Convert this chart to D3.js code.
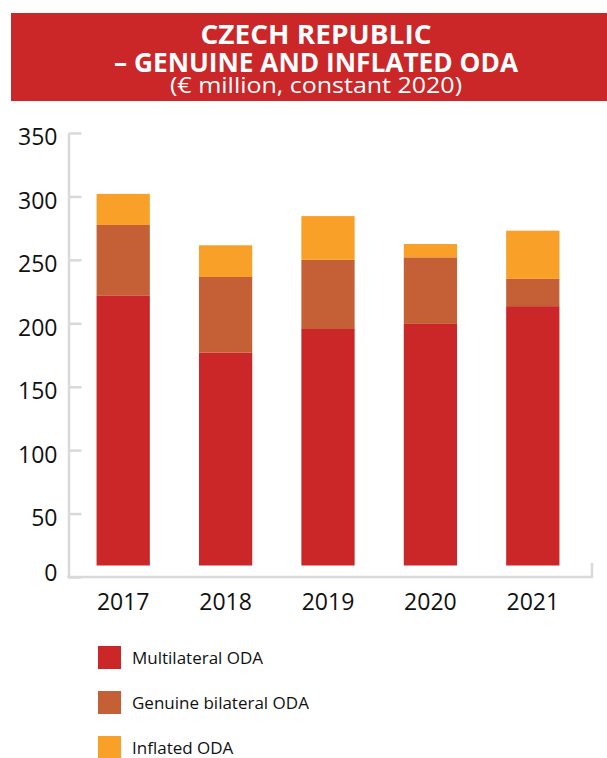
<!DOCTYPE html>
<html>
<head>
<meta charset="utf-8">
<script src="https://cdn.jsdelivr.net/npm/d3@7"></script>
<style>
  body { margin: 0; background: #fff; }
  svg { display: block; }
  .axis text { font-family: "Open Sans", sans-serif; font-size: 23px; fill: #111; }
  .legend text { font-family: "Open Sans", sans-serif; font-size: 17px; fill: #111; }
</style>
</head>
<body>
<div class="chart"></div>
<script>
var svgWidth = 607;
var svgHeight = 758;

// Data (€ million, constant 2020)
var years = ["2017", "2018", "2019", "2020", "2021"];
var multilateral = [222, 177, 195.5, 199.5, 213.5];
var genuineBilateral = [55.5, 59.5, 54.5, 52.5, 21.5];
var inflated = [24.5, 25, 34.5, 10.5, 38];
var yTicks = [0, 50, 100, 150, 200, 250, 300, 350];
var seriesNames = ["Multilateral ODA", "Genuine bilateral ODA", "Inflated ODA"];
var seriesColors = ["#cb2628", "#c56036", "#f9a028"];

var svg = d3.select(".chart")
  .append("svg")
  .attr("width", svgWidth)
  .attr("height", svgHeight);

// Title banner
svg.append("rect")
  .attr("x", 11)
  .attr("y", 13)
  .attr("width", svgWidth - 11)
  .attr("height", 88)
  .attr("fill", "#cb2628");

var titleX = 316;
var title = svg.append("text")
  .attr("text-anchor", "middle")
  .attr("fill", "#fff")
  .style("font-family", "'Open Sans', sans-serif");

title.append("tspan")
  .attr("x", titleX).attr("y", 44)
  .attr("textLength", 231).attr("lengthAdjust", "spacingAndGlyphs")
  .style("font-weight", "bold").style("font-size", "26px")
  .text("CZECH REPUBLIC");
title.append("tspan")
  .attr("x", titleX).attr("y", 72)
  .attr("textLength", 404).attr("lengthAdjust", "spacingAndGlyphs")
  .style("font-weight", "bold").style("font-size", "26px")
  .text("– GENUINE AND INFLATED ODA");
title.append("tspan")
  .attr("x", titleX).attr("y", 93)
  .attr("textLength", 292).attr("lengthAdjust", "spacingAndGlyphs")
  .style("font-size", "22px")
  .text("(€ million, constant 2020)");

// Scales
var xScale = d3.scaleBand()
  .domain(years)
  .range([72, 584])
  .paddingInner(0.48)
  .paddingOuter(0.24);

var yScale = d3.scaleLinear()
  .domain([0, 350])
  .range([577, 133]);

var axisX = 68.5;
var barGap = 11.5; // bars stop a little above the zero line, as in the original

// Stack
var table = years.map(function(yr, i) {
  return { year: yr, m: multilateral[i], g: genuineBilateral[i], f: inflated[i] };
});
var stacked = d3.stack().keys(["m", "g", "f"])(table);

var base = yScale(0) - barGap;
svg.append("g")
  .selectAll("g")
  .data(stacked)
  .enter()
  .append("g")
  .attr("fill", function(d, i) { return seriesColors[i]; })
  .selectAll("rect")
  .data(function(d) { return d; })
  .enter()
  .append("rect")
  .attr("x", function(d) { return xScale(d.data.year); })
  .attr("width", xScale.bandwidth())
  .attr("y", function(d) { return yScale(d[1]); })
  .attr("height", function(d) { return Math.min(yScale(d[0]), base) - yScale(d[1]); });

// Y axis
var leftAxis = d3.axisLeft(yScale)
  .tickValues(yTicks)
  .tickSizeInner(-13)
  .tickSizeOuter(0)
  .tickPadding(11);

var yAxisG = svg.append("g")
  .attr("class", "axis")
  .attr("transform", "translate(" + axisX + ",0)")
  .call(leftAxis);
yAxisG.selectAll("line, path").attr("stroke", "#d9d9d9").attr("stroke-width", 2.5);
// labels sit slightly below their ticks; the zero label sits a bit above its tick
yAxisG.selectAll("text").attr("dy", function(d) { return d === 0 ? "0.14em" : "0.52em"; });

// X axis
var bottomAxis = d3.axisBottom(xScale).tickSize(0).tickPadding(17);
var xAxisG = svg.append("g")
  .attr("class", "axis")
  .attr("transform", "translate(0," + yScale(0) + ")")
  .call(bottomAxis);
xAxisG.select(".domain").remove();

var xEnd = xScale.range()[1] + 8;
svg.append("path")
  .attr("d", "M" + (axisX - 1.25) + "," + yScale(0) + "H" + xEnd + "V" + (yScale(0) - 14))
  .attr("fill", "none")
  .attr("stroke", "#d9d9d9")
  .attr("stroke-width", 2.5);

// Legend
var legend = svg.append("g").attr("class", "legend")
  .selectAll("g")
  .data(seriesNames)
  .enter()
  .append("g")
  .attr("transform", function(d, i) { return "translate(98," + (646 + i * 45) + ")"; });

legend.append("rect")
  .attr("width", 23)
  .attr("height", 23)
  .attr("fill", function(d, i) { return seriesColors[i]; });

legend.append("text")
  .attr("x", 34)
  .attr("y", 17.5)
  .text(function(d) { return d; });
</script>
</body>
</html>
